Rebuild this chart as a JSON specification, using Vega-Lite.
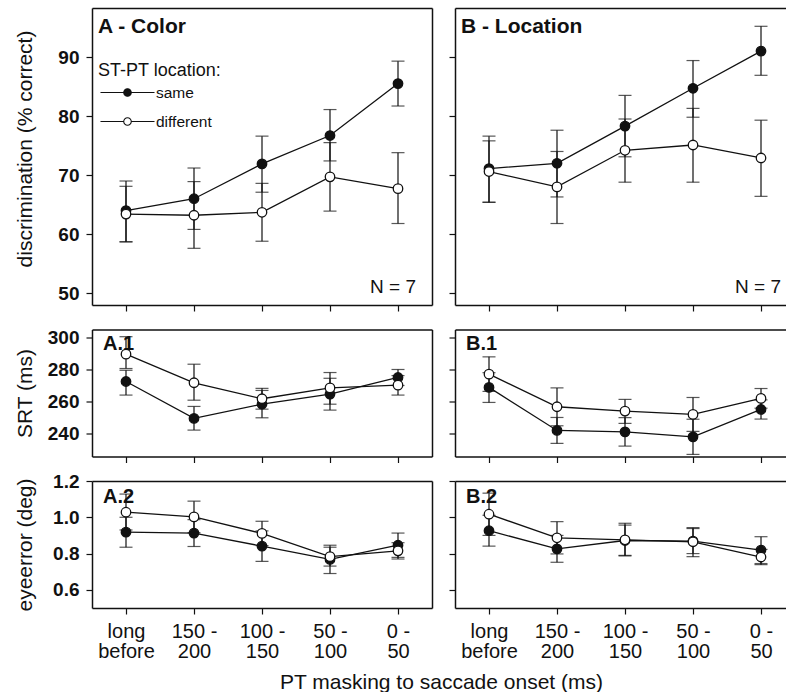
{
"$schema":"https://vega.github.io/schema/vega-lite/v6.json",
"padding":{"left":13,"top":8,"right":0,"bottom":0},
"config":{"font":"Liberation Sans","view":{"stroke":null},
"axis":{"grid":false,"domain":true,"tickColor":"#111","tickSize":6,"tickWidth":1.2,"labelColor":"#111","titleColor":"#111","domainColor":"#111","domainWidth":1.5}},
"data":{"name":"d"},
"datasets":{"d":[
{"p":"A","m":"disc","c":"long before","loc":"same","v":64.0,"lo":58.7,"hi":69.0},
{"p":"A","m":"disc","c":"150 - 200","loc":"same","v":66.0,"lo":60.8,"hi":71.2},
{"p":"A","m":"disc","c":"100 - 150","loc":"same","v":71.9,"lo":67.1,"hi":76.6},
{"p":"A","m":"disc","c":"50 - 100","loc":"same","v":76.7,"lo":72.4,"hi":81.1},
{"p":"A","m":"disc","c":"0 - 50","loc":"same","v":85.5,"lo":81.7,"hi":89.3},
{"p":"A","m":"disc","c":"long before","loc":"different","v":63.4,"lo":58.7,"hi":68.1},
{"p":"A","m":"disc","c":"150 - 200","loc":"different","v":63.2,"lo":57.6,"hi":68.9},
{"p":"A","m":"disc","c":"100 - 150","loc":"different","v":63.7,"lo":58.8,"hi":68.6},
{"p":"A","m":"disc","c":"50 - 100","loc":"different","v":69.7,"lo":63.9,"hi":75.5},
{"p":"A","m":"disc","c":"0 - 50","loc":"different","v":67.7,"lo":61.8,"hi":73.8},
{"p":"B","m":"disc","c":"long before","loc":"same","v":71.1,"lo":65.4,"hi":76.6},
{"p":"B","m":"disc","c":"150 - 200","loc":"same","v":72.0,"lo":66.3,"hi":77.6},
{"p":"B","m":"disc","c":"100 - 150","loc":"same","v":78.3,"lo":73.1,"hi":83.5},
{"p":"B","m":"disc","c":"50 - 100","loc":"same","v":84.7,"lo":79.8,"hi":89.4},
{"p":"B","m":"disc","c":"0 - 50","loc":"same","v":91.0,"lo":86.9,"hi":95.2},
{"p":"B","m":"disc","c":"long before","loc":"different","v":70.6,"lo":65.4,"hi":75.8},
{"p":"B","m":"disc","c":"150 - 200","loc":"different","v":68.0,"lo":61.8,"hi":74.0},
{"p":"B","m":"disc","c":"100 - 150","loc":"different","v":74.2,"lo":68.8,"hi":79.5},
{"p":"B","m":"disc","c":"50 - 100","loc":"different","v":75.1,"lo":68.8,"hi":81.3},
{"p":"B","m":"disc","c":"0 - 50","loc":"different","v":72.9,"lo":66.4,"hi":79.3},
{"p":"A","m":"srt","c":"long before","loc":"same","v":272.5,"lo":264.0,"hi":279.5},
{"p":"A","m":"srt","c":"150 - 200","loc":"same","v":249.4,"lo":242.1,"hi":256.9},
{"p":"A","m":"srt","c":"100 - 150","loc":"same","v":258.3,"lo":249.8,"hi":266.9},
{"p":"A","m":"srt","c":"50 - 100","loc":"same","v":264.6,"lo":254.6,"hi":274.5},
{"p":"A","m":"srt","c":"0 - 50","loc":"same","v":275.0,"lo":270.0,"hi":280.0},
{"p":"A","m":"srt","c":"long before","loc":"different","v":289.6,"lo":280.6,"hi":300.5},
{"p":"A","m":"srt","c":"150 - 200","loc":"different","v":271.7,"lo":260.8,"hi":283.3},
{"p":"A","m":"srt","c":"100 - 150","loc":"different","v":261.7,"lo":255.2,"hi":268.2},
{"p":"A","m":"srt","c":"50 - 100","loc":"different","v":268.5,"lo":258.3,"hi":278.1},
{"p":"A","m":"srt","c":"0 - 50","loc":"different","v":270.2,"lo":264.0,"hi":276.2},
{"p":"B","m":"srt","c":"long before","loc":"same","v":268.8,"lo":259.4,"hi":278.0},
{"p":"B","m":"srt","c":"150 - 200","loc":"same","v":241.9,"lo":233.8,"hi":250.0},
{"p":"B","m":"srt","c":"100 - 150","loc":"same","v":241.0,"lo":232.1,"hi":249.9},
{"p":"B","m":"srt","c":"50 - 100","loc":"same","v":237.9,"lo":226.9,"hi":248.9},
{"p":"B","m":"srt","c":"0 - 50","loc":"same","v":255.0,"lo":249.0,"hi":261.0},
{"p":"B","m":"srt","c":"long before","loc":"different","v":277.1,"lo":266.3,"hi":287.9},
{"p":"B","m":"srt","c":"150 - 200","loc":"different","v":256.7,"lo":244.8,"hi":268.5},
{"p":"B","m":"srt","c":"100 - 150","loc":"different","v":254.0,"lo":246.3,"hi":261.3},
{"p":"B","m":"srt","c":"50 - 100","loc":"different","v":251.9,"lo":241.3,"hi":262.5},
{"p":"B","m":"srt","c":"0 - 50","loc":"different","v":261.9,"lo":255.8,"hi":268.1},
{"p":"A","m":"err","c":"long before","loc":"same","v":0.918,"lo":0.835,"hi":1.0},
{"p":"A","m":"err","c":"150 - 200","loc":"same","v":0.913,"lo":0.839,"hi":0.987},
{"p":"A","m":"err","c":"100 - 150","loc":"same","v":0.841,"lo":0.757,"hi":0.925},
{"p":"A","m":"err","c":"50 - 100","loc":"same","v":0.768,"lo":0.69,"hi":0.846},
{"p":"A","m":"err","c":"0 - 50","loc":"same","v":0.846,"lo":0.779,"hi":0.913},
{"p":"A","m":"err","c":"long before","loc":"different","v":1.028,"lo":0.93,"hi":1.128},
{"p":"A","m":"err","c":"150 - 200","loc":"different","v":1.002,"lo":0.915,"hi":1.089},
{"p":"A","m":"err","c":"100 - 150","loc":"different","v":0.911,"lo":0.844,"hi":0.978},
{"p":"A","m":"err","c":"50 - 100","loc":"different","v":0.783,"lo":0.731,"hi":0.835},
{"p":"A","m":"err","c":"0 - 50","loc":"different","v":0.815,"lo":0.77,"hi":0.86},
{"p":"B","m":"err","c":"long before","loc":"same","v":0.926,"lo":0.841,"hi":1.011},
{"p":"B","m":"err","c":"150 - 200","loc":"same","v":0.826,"lo":0.752,"hi":0.9},
{"p":"B","m":"err","c":"100 - 150","loc":"same","v":0.872,"lo":0.787,"hi":0.957},
{"p":"B","m":"err","c":"50 - 100","loc":"same","v":0.869,"lo":0.8,"hi":0.938},
{"p":"B","m":"err","c":"0 - 50","loc":"same","v":0.819,"lo":0.745,"hi":0.893},
{"p":"B","m":"err","c":"long before","loc":"different","v":1.017,"lo":0.9,"hi":1.133},
{"p":"B","m":"err","c":"150 - 200","loc":"different","v":0.887,"lo":0.798,"hi":0.976},
{"p":"B","m":"err","c":"100 - 150","loc":"different","v":0.876,"lo":0.79,"hi":0.967},
{"p":"B","m":"err","c":"50 - 100","loc":"different","v":0.865,"lo":0.783,"hi":0.943},
{"p":"B","m":"err","c":"0 - 50","loc":"different","v":0.781,"lo":0.739,"hi":0.823}
]},
"columns":2,
"spacing":{"row":24.5,"column":23},
"bounds":"flush",
"resolve":{"scale":{"fill":"independent"},"legend":{"fill":"independent"}},
"concat":[
{"width":340,"height":297,
"transform":[{"filter":"datum.p == 'A' && datum.m == 'disc'"}],
"resolve":{"axis":{"x":"independent","y":"independent"}},
"layer":[
{"mark":{"type":"rule","color":"#111","strokeWidth":1.2},"encoding":{"x":{"field":"c","type":"nominal","scale":{"type":"point","domain":["long before","150 - 200","100 - 150","50 - 100","0 - 50"],"padding":0.5},"axis":{"labels":false,"title":null}},"y":{"field":"lo","type":"quantitative","title":"discrimination (% correct)","scale":{"domain":[48,98.3],"nice":false,"zero":false},"axis":{"values":[50,60,70,80,90],"labelFontSize":19,"labelFontWeight":"bold","labelPadding":7,"titleFontSize":21,"titleFontWeight":"normal","titleX":-57,"titleY":140.5,"titleBaseline":"bottom"}},"y2":{"field":"hi"}}},
{"mark":{"type":"tick","color":"#111","size":13,"thickness":1.2},"encoding":{"x":{"field":"c","type":"nominal","axis":{"orient":"top","labels":false,"ticks":false,"title":null}},"y":{"field":"lo","type":"quantitative","axis":{"orient":"right","labels":false,"ticks":false,"title":null}}}},
{"mark":{"type":"tick","color":"#111","size":13,"thickness":1.2},"encoding":{"x":{"field":"c","type":"nominal","axis":null},"y":{"field":"hi","type":"quantitative","axis":null}}},
{"mark":{"type":"line","color":"#111","strokeWidth":1.3},"encoding":{"x":{"field":"c","type":"nominal","axis":null},"y":{"field":"v","type":"quantitative","axis":null},"detail":{"field":"loc"}}},
{"mark":{"type":"point","shape":"circle","size":90,"filled":true,"opacity":1,"stroke":"#111","strokeWidth":1.3},"encoding":{"x":{"field":"c","type":"nominal","axis":null},"y":{"field":"v","type":"quantitative","axis":null},"fill":{"field":"loc","type":"nominal","scale":{"domain":["same","different"],"range":["#111111","#ffffff"]},"legend":{"orient":"none","legendX":6,"legendY":54,"title":"ST-PT location:","titleFontSize":18,"titleFontWeight":"normal","titleColor":"#111","titlePadding":1,"labelFontSize":15.5,"labelColor":"#111","symbolType":"M-2.5,0H-0.35M0.35,0H2.5M-0.35,0A0.35,0.35,0,1,1,0.35,0A0.35,0.35,0,1,1,-0.35,0Z","symbolSize":467,"symbolStrokeColor":"#111","symbolStrokeWidth":1.1,"symbolOpacity":1,"symbolOffset":18,"labelOffset":17,"rowPadding":9,"padding":0}}}},
{"data":{"values":[{"label":"N = 7"}]},"mark":{"type":"text","align":"right","baseline":"alphabetic","dx":18,"fontSize":19,"color":"#111"},"encoding":{"x":{"datum":"0 - 50","axis":null},"y":{"datum":50,"axis":null},"text":{"field":"label"}}},
{"data":{"values":[{"label":"A - Color"}]},"mark":{"type":"text","align":"left","baseline":"alphabetic","dx":-28,"dy":25,"fontSize":21,"fontWeight":"bold","color":"#111"},"encoding":{"x":{"datum":"long before","axis":null},"y":{"datum":98.3,"axis":null},"text":{"field":"label"}}}
]},
{"width":331,"height":297,
"transform":[{"filter":"datum.p == 'B' && datum.m == 'disc'"}],
"resolve":{"axis":{"x":"independent","y":"independent"}},
"layer":[
{"mark":{"type":"rule","color":"#111","strokeWidth":1.2},"encoding":{"x":{"field":"c","type":"nominal","scale":{"type":"point","domain":["long before","150 - 200","100 - 150","50 - 100","0 - 50"],"padding":0.4338,"align":0.5763},"axis":{"labels":false,"title":null}},"y":{"field":"lo","type":"quantitative","title":null,"scale":{"domain":[48,98.3],"nice":false,"zero":false},"axis":{"orient":"left","values":[50,60,70,80,90],"labels":false,"title":null}},"y2":{"field":"hi"}}},
{"mark":{"type":"tick","color":"#111","size":13,"thickness":1.2},"encoding":{"x":{"field":"c","type":"nominal","axis":{"orient":"top","labels":false,"ticks":false,"title":null}},"y":{"field":"lo","type":"quantitative","axis":null}}},
{"mark":{"type":"tick","color":"#111","size":13,"thickness":1.2},"encoding":{"x":{"field":"c","type":"nominal","axis":null},"y":{"field":"hi","type":"quantitative","axis":null}}},
{"mark":{"type":"line","color":"#111","strokeWidth":1.3},"encoding":{"x":{"field":"c","type":"nominal","axis":null},"y":{"field":"v","type":"quantitative","axis":null},"detail":{"field":"loc"}}},
{"mark":{"type":"point","shape":"circle","size":90,"filled":true,"opacity":1,"stroke":"#111","strokeWidth":1.3},"encoding":{"x":{"field":"c","type":"nominal","axis":null},"y":{"field":"v","type":"quantitative","axis":null},"fill":{"field":"loc","type":"nominal","scale":{"domain":["same","different"],"range":["#111111","#ffffff"]},"legend":null}}},
{"data":{"values":[{"label":"N = 7"}]},"mark":{"type":"text","align":"right","baseline":"alphabetic","dx":20,"fontSize":19,"color":"#111"},"encoding":{"x":{"datum":"0 - 50","axis":null},"y":{"datum":50,"axis":null},"text":{"field":"label"}}},
{"data":{"values":[{"label":"B - Location"}]},"mark":{"type":"text","align":"left","baseline":"alphabetic","dx":-28,"dy":25,"fontSize":21,"fontWeight":"bold","color":"#111"},"encoding":{"x":{"datum":"long before","axis":null},"y":{"datum":98.3,"axis":null},"text":{"field":"label"}}}
]},
{"width":340,"height":127,
"transform":[{"filter":"datum.p == 'A' && datum.m == 'srt'"}],
"resolve":{"axis":{"x":"independent","y":"independent"}},
"layer":[
{"mark":{"type":"rule","color":"#111","strokeWidth":1.2},"encoding":{"x":{"field":"c","type":"nominal","scale":{"type":"point","domain":["long before","150 - 200","100 - 150","50 - 100","0 - 50"],"padding":0.5},"axis":{"labels":false,"title":null}},"y":{"field":"lo","type":"quantitative","title":"SRT (ms)","scale":{"domain":[225.6,305],"nice":false,"zero":false},"axis":{"values":[240,260,280,300],"labelFontSize":19,"labelFontWeight":"bold","labelPadding":7,"titleFontSize":21,"titleFontWeight":"normal","titleX":-57,"titleBaseline":"bottom"}},"y2":{"field":"hi"}}},
{"mark":{"type":"tick","color":"#111","size":13,"thickness":1.2},"encoding":{"x":{"field":"c","type":"nominal","axis":{"orient":"top","labels":false,"ticks":false,"title":null}},"y":{"field":"lo","type":"quantitative","axis":{"orient":"right","labels":false,"ticks":false,"title":null}}}},
{"mark":{"type":"tick","color":"#111","size":13,"thickness":1.2},"encoding":{"x":{"field":"c","type":"nominal","axis":null},"y":{"field":"hi","type":"quantitative","axis":null}}},
{"mark":{"type":"line","color":"#111","strokeWidth":1.3},"encoding":{"x":{"field":"c","type":"nominal","axis":null},"y":{"field":"v","type":"quantitative","axis":null},"detail":{"field":"loc"}}},
{"mark":{"type":"point","shape":"circle","size":90,"filled":true,"opacity":1,"stroke":"#111","strokeWidth":1.3},"encoding":{"x":{"field":"c","type":"nominal","axis":null},"y":{"field":"v","type":"quantitative","axis":null},"fill":{"field":"loc","type":"nominal","scale":{"domain":["same","different"],"range":["#111111","#ffffff"]},"legend":null}}},
{"data":{"values":[{"label":"A.1"}]},"mark":{"type":"text","align":"left","baseline":"alphabetic","dx":-23,"dy":20,"fontSize":20,"fontWeight":"bold","color":"#111"},"encoding":{"x":{"datum":"long before","axis":null},"y":{"datum":305,"axis":null},"text":{"field":"label"}}}
]},
{"width":331,"height":127,
"transform":[{"filter":"datum.p == 'B' && datum.m == 'srt'"}],
"resolve":{"axis":{"x":"independent","y":"independent"}},
"layer":[
{"mark":{"type":"rule","color":"#111","strokeWidth":1.2},"encoding":{"x":{"field":"c","type":"nominal","scale":{"type":"point","domain":["long before","150 - 200","100 - 150","50 - 100","0 - 50"],"padding":0.4338,"align":0.5763},"axis":{"labels":false,"title":null}},"y":{"field":"lo","type":"quantitative","title":null,"scale":{"domain":[225.6,305],"nice":false,"zero":false},"axis":{"orient":"left","values":[240,260,280,300],"labels":false,"title":null}},"y2":{"field":"hi"}}},
{"mark":{"type":"tick","color":"#111","size":13,"thickness":1.2},"encoding":{"x":{"field":"c","type":"nominal","axis":{"orient":"top","labels":false,"ticks":false,"title":null}},"y":{"field":"lo","type":"quantitative","axis":null}}},
{"mark":{"type":"tick","color":"#111","size":13,"thickness":1.2},"encoding":{"x":{"field":"c","type":"nominal","axis":null},"y":{"field":"hi","type":"quantitative","axis":null}}},
{"mark":{"type":"line","color":"#111","strokeWidth":1.3},"encoding":{"x":{"field":"c","type":"nominal","axis":null},"y":{"field":"v","type":"quantitative","axis":null},"detail":{"field":"loc"}}},
{"mark":{"type":"point","shape":"circle","size":90,"filled":true,"opacity":1,"stroke":"#111","strokeWidth":1.3},"encoding":{"x":{"field":"c","type":"nominal","axis":null},"y":{"field":"v","type":"quantitative","axis":null},"fill":{"field":"loc","type":"nominal","scale":{"domain":["same","different"],"range":["#111111","#ffffff"]},"legend":null}}},
{"data":{"values":[{"label":"B.1"}]},"mark":{"type":"text","align":"left","baseline":"alphabetic","dx":-23,"dy":20,"fontSize":20,"fontWeight":"bold","color":"#111"},"encoding":{"x":{"datum":"long before","axis":null},"y":{"datum":305,"axis":null},"text":{"field":"label"}}}
]},
{"width":340,"height":127,
"transform":[{"filter":"datum.p == 'A' && datum.m == 'err'"}],
"resolve":{"axis":{"x":"independent","y":"independent"}},
"layer":[
{"mark":{"type":"rule","color":"#111","strokeWidth":1.2},"encoding":{"x":{"field":"c","type":"nominal","scale":{"type":"point","domain":["long before","150 - 200","100 - 150","50 - 100","0 - 50"],"padding":0.5},"axis":{"labels":true,"labelAngle":0,"labelFontSize":20,"labelLineHeight":20,"labelPadding":7,"labelExpr":"datum.label == 'long before' ? ['long','before'] : split(replace(datum.label, ' - ', ' -|'), '|')","title":"PT masking to saccade onset (ms)","titleFontSize":21,"titleFontWeight":"normal","titleX":349,"titleY":80,"titleBaseline":"alphabetic","titleAlign":"center"}},"y":{"field":"lo","type":"quantitative","title":"eyeerror (deg)","scale":{"domain":[0.5,1.2],"nice":false,"zero":false},"axis":{"values":[0.6,0.8,1.0,1.2],"format":".1f","labelFontSize":19,"labelFontWeight":"bold","labelPadding":7,"titleFontSize":21,"titleFontWeight":"normal","titleX":-57,"titleBaseline":"bottom"}},"y2":{"field":"hi"}}},
{"mark":{"type":"tick","color":"#111","size":13,"thickness":1.2},"encoding":{"x":{"field":"c","type":"nominal","axis":{"orient":"top","labels":false,"ticks":false,"title":null}},"y":{"field":"lo","type":"quantitative","axis":{"orient":"right","labels":false,"ticks":false,"title":null}}}},
{"mark":{"type":"tick","color":"#111","size":13,"thickness":1.2},"encoding":{"x":{"field":"c","type":"nominal","axis":null},"y":{"field":"hi","type":"quantitative","axis":null}}},
{"mark":{"type":"line","color":"#111","strokeWidth":1.3},"encoding":{"x":{"field":"c","type":"nominal","axis":null},"y":{"field":"v","type":"quantitative","axis":null},"detail":{"field":"loc"}}},
{"mark":{"type":"point","shape":"circle","size":90,"filled":true,"opacity":1,"stroke":"#111","strokeWidth":1.3},"encoding":{"x":{"field":"c","type":"nominal","axis":null},"y":{"field":"v","type":"quantitative","axis":null},"fill":{"field":"loc","type":"nominal","scale":{"domain":["same","different"],"range":["#111111","#ffffff"]},"legend":null}}},
{"data":{"values":[{"label":"A.2"}]},"mark":{"type":"text","align":"left","baseline":"alphabetic","dx":-23,"dy":22,"fontSize":20,"fontWeight":"bold","color":"#111"},"encoding":{"x":{"datum":"long before","axis":null},"y":{"datum":1.2,"axis":null},"text":{"field":"label"}}}
]},
{"width":331,"height":127,
"transform":[{"filter":"datum.p == 'B' && datum.m == 'err'"}],
"resolve":{"axis":{"x":"independent","y":"independent"}},
"layer":[
{"mark":{"type":"rule","color":"#111","strokeWidth":1.2},"encoding":{"x":{"field":"c","type":"nominal","scale":{"type":"point","domain":["long before","150 - 200","100 - 150","50 - 100","0 - 50"],"padding":0.4338,"align":0.5763},"axis":{"labels":true,"labelAngle":0,"labelFontSize":20,"labelLineHeight":20,"labelPadding":7,"labelExpr":"datum.label == 'long before' ? ['long','before'] : split(replace(datum.label, ' - ', ' -|'), '|')","title":null}},"y":{"field":"lo","type":"quantitative","title":null,"scale":{"domain":[0.5,1.2],"nice":false,"zero":false},"axis":{"orient":"left","values":[0.6,0.8,1.0,1.2],"labels":false,"title":null}},"y2":{"field":"hi"}}},
{"mark":{"type":"tick","color":"#111","size":13,"thickness":1.2},"encoding":{"x":{"field":"c","type":"nominal","axis":{"orient":"top","labels":false,"ticks":false,"title":null}},"y":{"field":"lo","type":"quantitative","axis":null}}},
{"mark":{"type":"tick","color":"#111","size":13,"thickness":1.2},"encoding":{"x":{"field":"c","type":"nominal","axis":null},"y":{"field":"hi","type":"quantitative","axis":null}}},
{"mark":{"type":"line","color":"#111","strokeWidth":1.3},"encoding":{"x":{"field":"c","type":"nominal","axis":null},"y":{"field":"v","type":"quantitative","axis":null},"detail":{"field":"loc"}}},
{"mark":{"type":"point","shape":"circle","size":90,"filled":true,"opacity":1,"stroke":"#111","strokeWidth":1.3},"encoding":{"x":{"field":"c","type":"nominal","axis":null},"y":{"field":"v","type":"quantitative","axis":null},"fill":{"field":"loc","type":"nominal","scale":{"domain":["same","different"],"range":["#111111","#ffffff"]},"legend":null}}},
{"data":{"values":[{"label":"B.2"}]},"mark":{"type":"text","align":"left","baseline":"alphabetic","dx":-23,"dy":22,"fontSize":20,"fontWeight":"bold","color":"#111"},"encoding":{"x":{"datum":"long before","axis":null},"y":{"datum":1.2,"axis":null},"text":{"field":"label"}}}
]}
]
}
